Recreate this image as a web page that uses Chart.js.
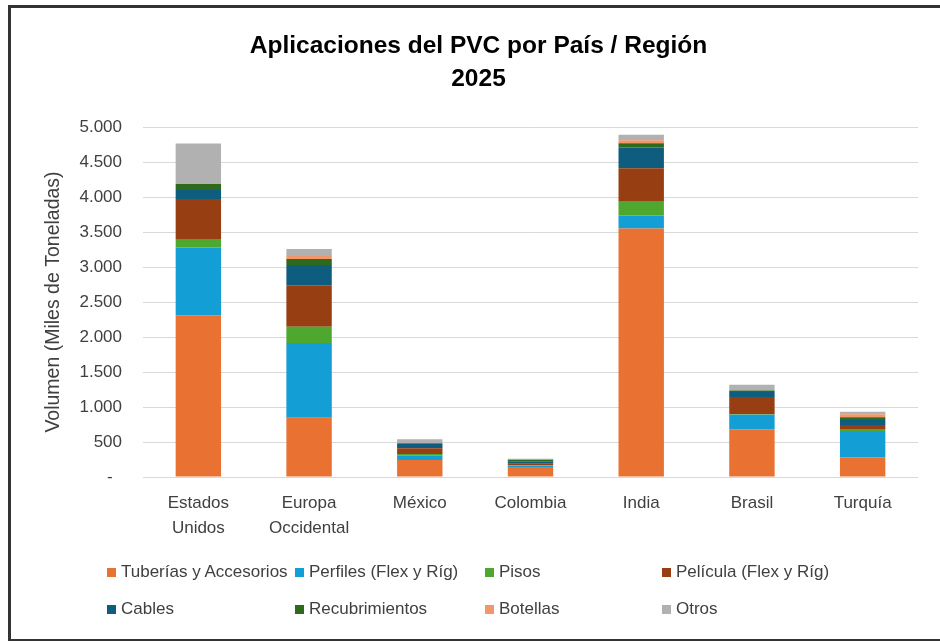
<!DOCTYPE html>
<html>
<head>
<meta charset="utf-8">
<script src="https://cdn.jsdelivr.net/npm/chart.js@4.4.1/dist/chart.umd.min.js"></script>
<style>
  html, body { margin: 0; padding: 0; background: #fff; overflow: hidden; }
  #wrap { position: relative; width: 940px; height: 641px; }
  #frame { position: absolute; left: 8px; top: 5px; width: 960px; height: 637px;
           border: 3px solid #333; box-sizing: border-box; pointer-events: none; }
  .leg { position: absolute; font: 17px "Liberation Sans", Arial, sans-serif; color: #404040;
         white-space: nowrap; line-height: 20px; }
  .leg i { display: inline-block; width: 9px; height: 9px; margin-right: 5px; vertical-align: 0px; }
</style>
</head>
<body>
<div id="wrap">
  <canvas id="pvcChart" width="940" height="641"></canvas>
  <div id="legend"></div>
  <div id="frame"></div>
</div>
<script>
const categorias = [['Estados', 'Unidos'], ['Europa', 'Occidental'], 'México', 'Colombia', 'India', 'Brasil', 'Turquía'];

const tuberias       = [2310,  848, 243, 143, 3550, 681, 281];
const perfiles       = [ 970, 1066,  62,  19,  186, 209, 376];
const pisos          = [ 120,  234,  24,   5,  195,   5,  29];
const pelicula       = [ 570,  590,  81,  23,  481, 248,  57];
const cables         = [ 130,  290,  61,  29,  296,  72,  71];
const recubrimientos = [  85,   85,  10,  29,   61,  19,  38];
const botellas       = [   0,   43,   0,   0,   43,   0,  43];
const otros          = [ 580,  100,  57,  14,   76,  85,  38];

const yTicks = [0, 500, 1000, 1500, 2000, 2500, 3000, 3500, 4000, 4500, 5000];

const series = [
  { label: 'Tuberías y Accesorios', data: tuberias, color: '#E97132' },
  { label: 'Perfiles (Flex y Ríg)', data: perfiles, color: '#139ED6' },
  { label: 'Pisos', data: pisos, color: '#4EA72E' },
  { label: 'Película (Flex y Ríg)', data: pelicula, color: '#973F12' },
  { label: 'Cables', data: cables, color: '#0E5C7E' },
  { label: 'Recubrimientos', data: recubrimientos, color: '#2D6A1E' },
  { label: 'Botellas', data: botellas, color: '#F1976B' },
  { label: 'Otros', data: otros, color: '#B1B1B1' }
];

function fmt(v) {
  if (v === 0) return '-  ';
  return String(v).replace(/\B(?=(\d{3})+(?!\d))/g, '.');
}

const ctx = document.getElementById('pvcChart').getContext('2d');

const pvcChart = new Chart(ctx, {
  type: 'bar',
  data: {
    labels: categorias,
    datasets: series.map(s => ({
      label: s.label,
      data: s.data,
      backgroundColor: s.color,
      borderWidth: 0,
      barPercentage: 0.41,
      categoryPercentage: 1
    }))
  },
  options: {
    responsive: false,
    animation: false,
    layout: { padding: { left: 39, right: 22, top: 6, bottom: 95 } },
    plugins: {
      legend: { display: false },
      tooltip: { enabled: false },
      title: {
        display: true,
        text: ['Aplicaciones del PVC por País / Región', '2025'],
        color: '#000',
        font: { family: '"Liberation Sans", Arial, sans-serif', size: 24.5, weight: 'bold', lineHeight: 33 / 24.5 },
        padding: { top: 23.5, bottom: 31.5 }
      }
    },
    scales: {
      x: {
        stacked: true,
        grid: { display: false },
        border: { display: false },
        ticks: {
          color: '#404040',
          maxRotation: 0,
          autoSkip: false,
          padding: 5.5,
          font: { family: '"Liberation Sans", Arial, sans-serif', size: 17, lineHeight: 25 / 17 }
        }
      },
      y: {
        stacked: true,
        min: 0,
        max: 5000,
        afterFit: scale => { scale.width = 104; },
        afterBuildTicks: scale => { scale.ticks = yTicks.map(v => ({ value: v })); },
        grid: { color: '#D9D9D9', drawTicks: false },
        border: { display: false },
        ticks: {
          color: '#404040',
          padding: 21,
          callback: v => fmt(v),
          font: { family: '"Liberation Sans", Arial, sans-serif', size: 17 }
        },
        title: {
          display: true,
          text: 'Volumen (Miles de Toneladas)',
          color: '#404040',
          font: { family: '"Liberation Sans", Arial, sans-serif', size: 19.5 },
          padding: { top: 3, bottom: 4 }
        }
      }
    }
  }
});

// legend laid out like the Excel one: 4 columns, 2 rows
const legCols = [107, 295, 485, 662];
const legRows = [572, 609];
const legendEl = document.getElementById('legend');
series.forEach((s, i) => {
  const item = document.createElement('div');
  item.className = 'leg';
  item.style.left = legCols[i % 4] + 'px';
  item.style.top = (legRows[Math.floor(i / 4)] - 10) + 'px';
  item.innerHTML = '<i style="background:' + s.color + '"></i>' + s.label;
  legendEl.appendChild(item);
});
</script>
</body>
</html>
